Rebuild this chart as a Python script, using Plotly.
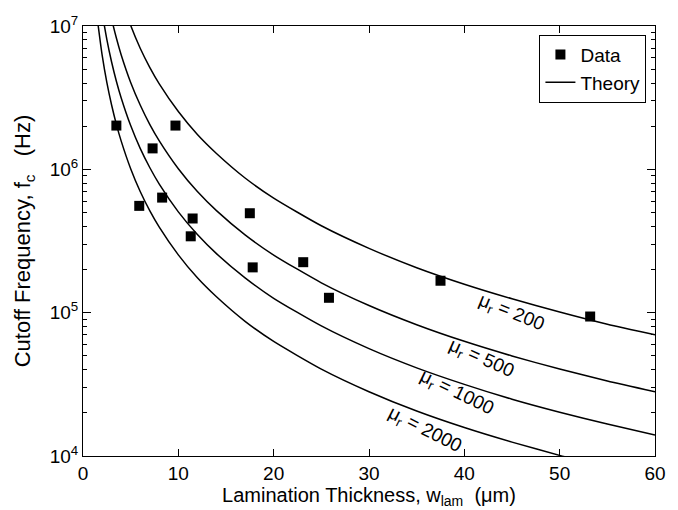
import plotly.graph_objects as go

# Measured data (lamination thickness in um, cutoff frequency in Hz)
data_w = [3.5, 9.7, 7.3, 8.3, 5.9, 11.5, 11.3, 17.5, 17.8, 23.1, 25.8, 37.5, 53.2]
data_fc = [2.02e6, 2.02e6, 1.40e6, 6.35e5, 5.56e5, 4.54e5, 3.41e5, 4.94e5, 2.07e5, 2.25e5, 1.27e5, 1.67e5, 9.4e4]

# Theory curves
theory_w = [1.5, 2, 2.5, 3, 3.5, 4, 5, 6, 7, 8, 10, 12, 14, 17, 20, 25, 30, 35, 40, 45, 50, 55, 60]
theory_200 = [1.122e8, 6.31e7, 4.04e7, 2.81e7, 2.06e7, 1.58e7, 1.01e7, 7.0e6, 5.15e6, 3.95e6, 2.53e6,
              1.75e6, 1.29e6, 8.7e5, 6.3e5, 4.04e5, 2.81e5, 2.06e5, 1.58e5, 1.25e5, 1.01e5, 8.3e4, 7.0e4]
theory_500 = [4.49e7, 2.525e7, 1.616e7, 1.122e7, 8.24e6, 6.31e6, 4.04e6, 2.81e6, 2.06e6, 1.58e6, 1.01e6,
              7.0e5, 5.15e5, 3.49e5, 2.525e5, 1.616e5, 1.122e5, 8.24e4, 6.31e4, 4.99e4, 4.04e4, 3.34e4, 2.81e4]
theory_1000 = [2.244e7, 1.2625e7, 8.08e6, 5.61e6, 4.12e6, 3.16e6, 2.02e6, 1.40e6, 1.03e6, 7.89e5, 5.05e5,
               3.51e5, 2.58e5, 1.75e5, 1.26e5, 8.08e4, 5.61e4, 4.12e4, 3.16e4, 2.49e4, 2.02e4, 1.67e4, 1.40e4]
theory_2000 = [1.122e7, 6.31e6, 4.04e6, 2.81e6, 2.06e6, 1.58e6, 1.01e6, 7.0e5, 5.15e5, 3.95e5, 2.53e5,
               1.75e5, 1.29e5, 8.7e4, 6.3e4, 4.04e4, 2.81e4, 2.06e4, 1.58e4, 1.25e4, 1.01e4, 8.3e3, 7.0e3]

curve_labels = ["200", "500", "1000", "2000"]
label_x = [44.9, 41.8, 39.2, 35.8]
label_logy = [5.0, 4.68, 4.44, 4.18]
label_angle = [22, 24, 26, 27]

x_ticks = [0, 10, 20, 30, 40, 50, 60]
y_ticks = [1e4, 1e5, 1e6, 1e7]
y_ticktext = ["10<sup>4</sup>", "10<sup>5</sup>", "10<sup>6</sup>", "10<sup>7</sup>"]
y_minor = [m * 10 ** e for e in (4, 5, 6) for m in range(2, 10)]

FONT = "Arial, Liberation Sans, Helvetica, sans-serif"

fig = go.Figure()

fig.add_trace(go.Scatter(x=data_w, y=data_fc, mode="markers", name="Data",
                         marker=dict(symbol="square", size=10, color="black")))

for i, series in enumerate([theory_200, theory_500, theory_1000, theory_2000]):
    fig.add_trace(go.Scatter(x=theory_w, y=series, mode="lines", name="Theory",
                             showlegend=(i == 0),
                             line=dict(color="black", width=1.5, shape="spline", smoothing=0.6)))

for lab, lx, ly, ang in zip(curve_labels, label_x, label_logy, label_angle):
    fig.add_annotation(x=lx, y=ly, text="μ<sub>r</sub> = " + lab, showarrow=False,
                       textangle=ang, font=dict(family=FONT, size=19, color="black"))

axis_common = dict(showline=True, linecolor="black", linewidth=1, mirror="ticks",
                   ticks="inside", tickcolor="black", showgrid=False, zeroline=False,
                   tickfont=dict(family=FONT, size=19, color="black"))

fig.update_xaxes(range=[0, 60], tickvals=x_ticks, ticklen=7,
                 title=dict(text="Lamination Thickness, w<sub>lam</sub>  (μm)",
                            font=dict(family=FONT, size=20, color="black"), standoff=0),
                 **axis_common)
fig.update_yaxes(type="log", range=[4, 7], tickvals=y_ticks, ticktext=y_ticktext, ticklen=8,
                 minor=dict(tickmode="array", tickvals=y_minor, ticks="inside", ticklen=4,
                            tickcolor="black", showgrid=False),
                 title=dict(text="Cutoff Frequency, f<sub>c</sub>   (Hz)",
                            font=dict(family=FONT, size=22, color="black"), standoff=12),
                 **axis_common)

fig.update_layout(
    width=678, height=510,
    margin=dict(l=83, r=13, t=26, b=52),
    plot_bgcolor="white", paper_bgcolor="white",
    font=dict(family=FONT, size=18, color="black"),
    legend=dict(x=0.985, y=0.98, xanchor="right", yanchor="top",
                bordercolor="black", borderwidth=1, bgcolor="white",
                font=dict(family=FONT, size=19, color="black"),
                tracegroupgap=0),
)

fig.write_html("out.html", config={"displayModeBar": False},
               post_script="document.body.style.margin='0px';")
